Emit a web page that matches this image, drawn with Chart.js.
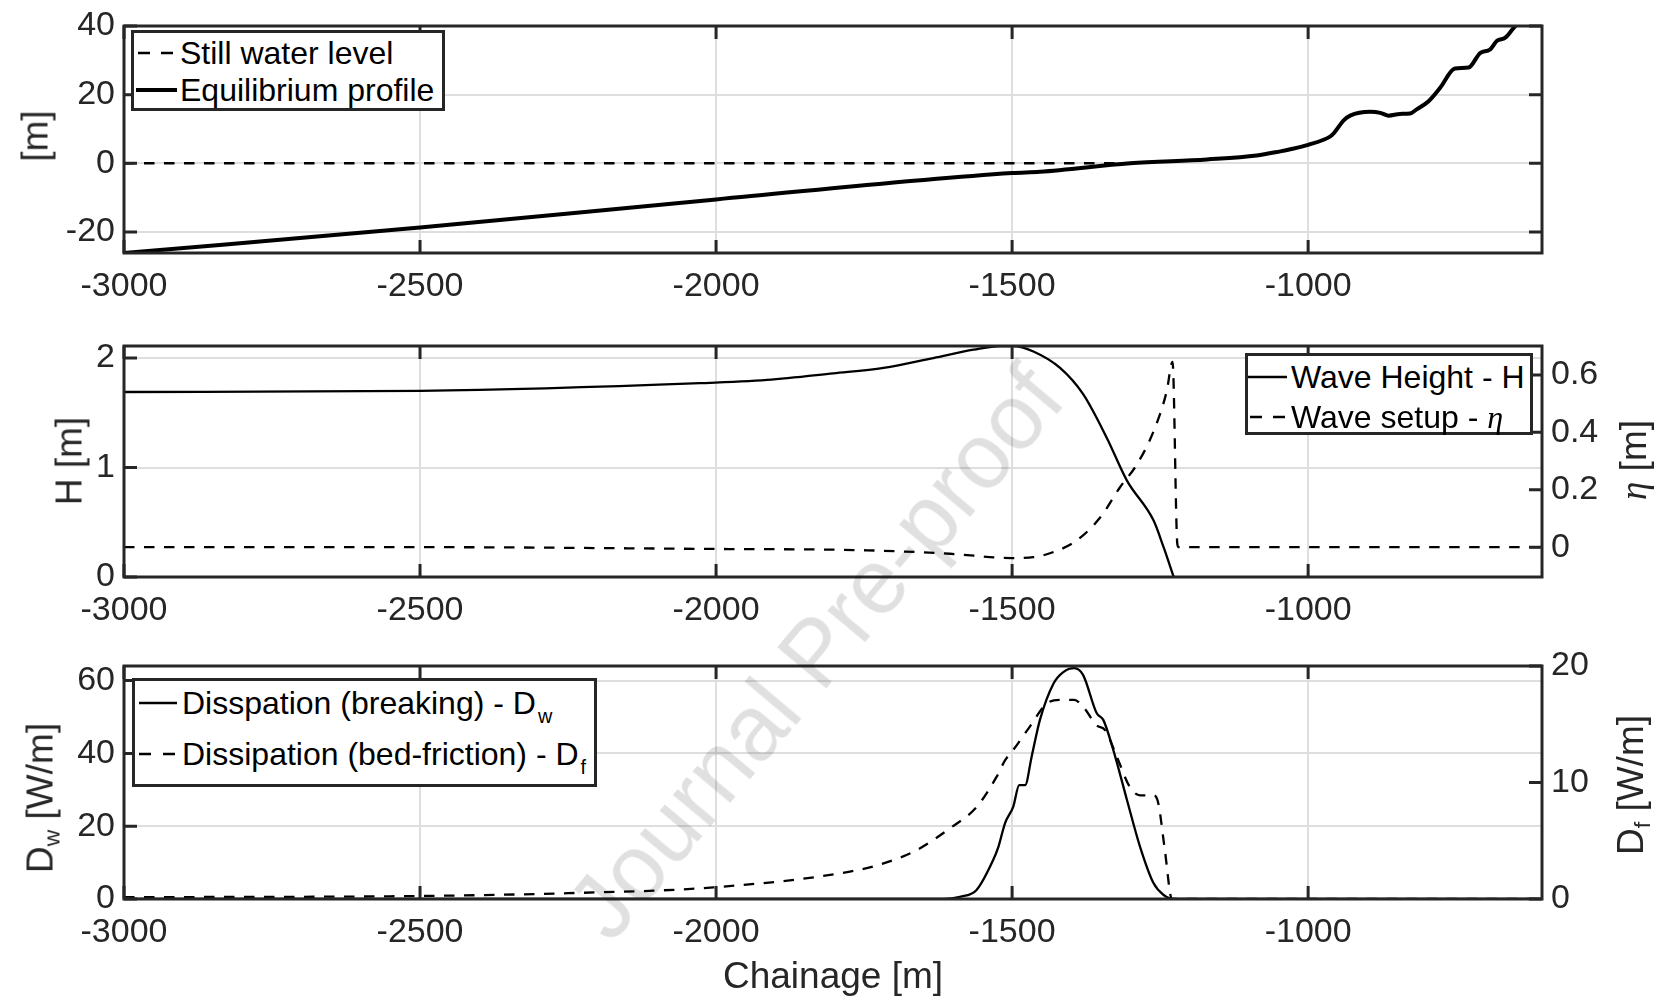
<!DOCTYPE html>
<html>
<head>
<meta charset="utf-8">
<script src="https://cdn.jsdelivr.net/npm/chart.js@4.4.1/dist/chart.umd.min.js"></script>
<style>
  body { margin: 0; background: #fff; }
  #page {
    position: relative; width: 1661px; height: 999px; overflow: hidden;
    font-family: 'Liberation Sans', Arial, Helvetica, sans-serif; color: #262626;
  }
  canvas { position: absolute; left: 0; }
  .ylab {
    position: absolute; white-space: nowrap; font-size: 37px; line-height: 1;
    transform: translate(-50%, -50%) rotate(-90deg);
  }
  .xlab {
    position: absolute; white-space: nowrap; font-size: 37px; line-height: 1;
    transform: translate(-50%, -50%);
  }
  .legend {
    position: absolute; box-sizing: border-box; border: 3px solid #262626; background: #fff;
  }
  .row { position: absolute; left: 0; height: 40px; width: 100%; }
  .row > svg { position: absolute; top: 0; }
  .row > .txt {
    position: absolute; top: 0; line-height: 40px; font-size: 32px; color: #000; white-space: nowrap;
  }
  .sub { font-size: 0.62em; position: relative; top: 0.3em; }
  .row .sub { top: 0.45em; margin-left: 2px; }
  .eta { font-family: 'Liberation Serif', 'DejaVu Serif', serif; font-style: italic; }
  #mark {
    position: absolute; left: 815px; top: 652px; white-space: nowrap;
    transform: translate(-50%, -50%) rotate(-50deg);
    font-size: 92px; line-height: 1; color: rgba(0, 0, 0, 0.12); pointer-events: none;
  }
</style>
</head>
<body>
<div id="page">
  <canvas id="c1" width="1661" height="320" style="top:0px"></canvas>
  <canvas id="c2" width="1661" height="320" style="top:320px"></canvas>
  <canvas id="c3" width="1661" height="359" style="top:640px"></canvas>

  <div class="ylab" style="left:35px; top:136px">[m]</div>
  <div class="ylab" style="left:69px; top:461px">H [m]</div>
  <div class="ylab" style="left:1633px; top:460px"><span class="eta">η</span> [m]</div>
  <div class="ylab" style="left:40px; top:798px">D<span class="sub">w</span> [W/m]</div>
  <div class="ylab" style="left:1630px; top:785px">D<span class="sub">f</span> [W/m]</div>
  <div class="xlab" style="left:833px; top:975px">Chainage [m]</div>

  <div class="legend" style="left:131px; top:30px; width:314px; height:81px">
    <div class="row" style="top:0px">
      <svg width="42" height="40" style="left:4px"><line x1="0" y1="20" x2="36" y2="20" stroke="#000" stroke-width="2.5" stroke-dasharray="12 11 12 60"/></svg>
      <span class="txt" style="left:46px">Still water level</span>
    </div>
    <div class="row" style="top:37px">
      <svg width="42" height="40" style="left:2px"><line x1="0" y1="20" x2="41" y2="20" stroke="#000" stroke-width="4"/></svg>
      <span class="txt" style="left:46px">Equilibrium profile</span>
    </div>
  </div>

  <div class="legend" style="left:1245px; top:353px; width:288px; height:82px">
    <div class="row" style="top:1px">
      <svg width="42" height="40" style="left:0px"><line x1="0" y1="20" x2="39" y2="20" stroke="#000" stroke-width="2.3"/></svg>
      <span class="txt" style="left:43px">Wave Height - H</span>
    </div>
    <div class="row" style="top:41px">
      <svg width="42" height="40" style="left:2px"><line x1="0" y1="20" x2="36" y2="20" stroke="#000" stroke-width="2.3" stroke-dasharray="12 11 12 60"/></svg>
      <span class="txt" style="left:43px">Wave setup - <span class="eta">η</span></span>
    </div>
  </div>

  <div class="legend" style="left:132px; top:678px; width:465px; height:109px">
    <div class="row" style="top:2px">
      <svg width="42" height="40" style="left:4px"><line x1="0" y1="20" x2="38" y2="20" stroke="#000" stroke-width="2.3"/></svg>
      <span class="txt" style="left:47px">Disspation (breaking) - D<span class="sub">w</span></span>
    </div>
    <div class="row" style="top:53px">
      <svg width="42" height="40" style="left:4px"><line x1="0" y1="20" x2="38" y2="20" stroke="#000" stroke-width="2.3" stroke-dasharray="12 12 12 60"/></svg>
      <span class="txt" style="left:47px">Dissipation (bed-friction) - D<span class="sub">f</span></span>
    </div>
  </div>

  <div id="mark">Journal Pre-proof</div>
</div>

<script>
// chainage axis
const xMin = -3000;
const xMax = -605;
const xTicks = [-3000, -2500, -2000, -1500, -1000];

// panel 1: bed profile
const swlX = [-3000, -1300];
const swlZ = [0, 0];
const profileX = [-3000, -2500, -2000, -1500, -1453, -1301, -1171, -1087, -1047, -1030, -1000,
  -963, -957, -940, -929, -895, -878, -864, -845, -828, -816, -797, -777, -752, -729,
  -709, -693, -681, -667, -654, -640];
const profileZ = [-26.1, -18.7, -10.5, -2.8, -2.45, 0, 1.13, 2.27, 3.5, 4.1, 5.4,
  7.8, 8.7, 12.5, 13.9, 15.0, 14.7, 13.9, 14.4, 14.5, 15.8, 18.0, 22.0, 27.6, 27.9,
  32.2, 33.1, 35.7, 36.6, 39.2, 42];
const zTicks = [-20, 0, 20, 40];

// panel 2: wave height and setup
const waveX = [-3000, -2500, -2027, -1914, -1802, -1717, -1633, -1565, -1520, -1498, -1464,
  -1419, -1380, -1340, -1306, -1261, -1244, -1227];
const waveH = [1.69, 1.70, 1.77, 1.80, 1.86, 1.91, 2.00, 2.076, 2.11, 2.11, 2.06,
  1.91, 1.67, 1.27, 0.88, 0.515, 0.27, 0.0];
const setupX = [-3000, -2500, -2027, -1745, -1605, -1501, -1464, -1430, -1391, -1351, -1318,
  -1289, -1261, -1239, -1229, -1221, -1219, -605];
const setupEta = [0, 0, -0.006, -0.011, -0.023, -0.038, -0.035, -0.017, 0.023, 0.104, 0.208,
  0.289, 0.404, 0.542, 0.646, 0.012, 0, 0];
const hTicks = [0, 1, 2];
const etaTicks = [0, 0.2, 0.4, 0.6];

// panel 3: dissipation
const dissX = [-3000, -1616, -1588, -1560, -1532, -1523, -1512, -1498, -1488, -1478, -1467,
  -1453, -1430, -1413, -1395, -1380, -1357, -1346, -1329, -1306, -1284, -1261, -1244, -1228, -605];
const dissDw = [0, 0, 0.6, 2.5, 10.7, 14.4, 20.8, 25.4, 31.3, 31.3, 39.1,
  49.2, 59.2, 62.4, 63.4, 61.5, 51.0, 49.2, 40.9, 27.2, 14.4, 4.3, 1.1, 0, 0];
const fricX = [-3000, -2500, -2250, -2004, -1774, -1717, -1661, -1605, -1560, -1526, -1512,
  -1498, -1470, -1441, -1418, -1395, -1380, -1357, -1343, -1323, -1301, -1284, -1261, -1253,
  -1242, -1230, -605];
const fricDf = [0.15, 0.26, 0.5, 1.0, 2.35, 3.06, 4.2, 6.07, 7.9, 10.5, 11.9,
  12.8, 14.8, 16.8, 17.1, 17.1, 16.5, 14.9, 14.5, 12.2, 9.6, 8.9, 8.9, 8.2,
  4.2, 0, 0];
const dwTicks = [0, 20, 40, 60];
const dfTicks = [0, 10, 20];

const axisColor = '#262626';
const gridColor = '#dedede';
const tickFont = { family: "'Liberation Sans', Arial, Helvetica, sans-serif", size: 34, lineHeight: 1 };
const dash = [10.5, 9.5];
const TICK_LEN = 13;

const toPoints = (xs, ys) => xs.map((x, i) => ({ x, y: ys[i] }));

// MATLAB-like box with inward ticks on every side
const boxPlugin = {
  id: 'matlabBox',
  afterDraw(chart) {
    const { ctx, chartArea: a, scales } = chart;
    ctx.save();
    ctx.strokeStyle = axisColor;
    ctx.lineWidth = 3;
    ctx.beginPath();
    scales.x.ticks.forEach((t) => {
      const px = scales.x.getPixelForValue(t.value);
      ctx.moveTo(px, a.bottom); ctx.lineTo(px, a.bottom - TICK_LEN);
      ctx.moveTo(px, a.top); ctx.lineTo(px, a.top + TICK_LEN);
    });
    scales.y.ticks.forEach((t) => {
      const py = scales.y.getPixelForValue(t.value);
      ctx.moveTo(a.left, py); ctx.lineTo(a.left + TICK_LEN, py);
      if (!scales.y2) { ctx.moveTo(a.right, py); ctx.lineTo(a.right - TICK_LEN, py); }
    });
    if (scales.y2) {
      scales.y2.ticks.forEach((t) => {
        const py = scales.y2.getPixelForValue(t.value);
        ctx.moveTo(a.right, py); ctx.lineTo(a.right - TICK_LEN, py);
      });
    }
    ctx.stroke();
    ctx.strokeRect(a.left, a.top, a.right - a.left, a.bottom - a.top);
    ctx.restore();
  },
};

function xScale(height) {
  return {
    type: 'linear',
    min: xMin,
    max: xMax,
    afterBuildTicks: (s) => { s.ticks = xTicks.map((v) => ({ value: v })); },
    afterFit: (s) => { s.height = height; },
    grid: { color: gridColor, lineWidth: 2, drawTicks: false },
    border: { display: false },
    ticks: { color: axisColor, font: tickFont, padding: 17, maxRotation: 0, autoSkip: false,
      callback: (v) => String(v) },
  };
}

function yScale(position, min, max, tickList, width, showGrid) {
  return {
    type: 'linear',
    position,
    min,
    max,
    afterBuildTicks: (s) => { s.ticks = tickList.map((v) => ({ value: v })); },
    afterFit: (s) => { s.width = width; },
    grid: { display: showGrid, color: gridColor, lineWidth: 2, drawTicks: false },
    border: { display: false },
    ticks: { color: axisColor, font: tickFont, padding: 9, autoSkip: false,
      callback: (v) => String(v) },
  };
}

function line(points, width, dashed, axis) {
  return {
    data: points,
    yAxisID: axis || 'y',
    borderColor: '#000',
    borderWidth: width,
    borderDash: dashed ? dash : [],
    pointRadius: 0,
    fill: false,
    cubicInterpolationMode: 'monotone',
  };
}

function baseOptions(padding, scales) {
  return {
    responsive: false,
    animation: false,
    events: [],
    layout: { padding, autoPadding: false },
    plugins: { legend: { display: false }, tooltip: { enabled: false } },
    scales,
  };
}

new Chart(document.getElementById('c1'), {
  type: 'line',
  data: {
    datasets: [
      line(toPoints(swlX, swlZ), 2.5, true),
      line(toPoints(profileX, profileZ), 4, false),
    ],
  },
  options: baseOptions({ top: 20, right: 119, bottom: 0, left: 0 }, {
    x: xScale(67),
    y: yScale('left', -26.1, 40, zTicks, 124, true),
  }),
  plugins: [boxPlugin],
});

new Chart(document.getElementById('c2'), {
  type: 'line',
  data: {
    datasets: [
      line(toPoints(waveX, waveH), 2.3, false, 'y'),
      line(toPoints(setupX, setupEta), 2.3, true, 'y2'),
    ],
  },
  options: baseOptions({ top: 24, right: 0, bottom: 0, left: 0 }, {
    x: xScale(63),
    y: yScale('left', 0, 2.11, hTicks, 124, true),
    y2: yScale('right', -0.104, 0.701, etaTicks, 119, false),
  }),
  plugins: [boxPlugin],
});

new Chart(document.getElementById('c3'), {
  type: 'line',
  data: {
    datasets: [
      line(toPoints(dissX, dissDw), 2.3, false, 'y'),
      line(toPoints(fricX, fricDf), 2.3, true, 'y2'),
    ],
  },
  options: baseOptions({ top: 26, right: 0, bottom: 0, left: 0 }, {
    x: xScale(100),
    y: yScale('left', 0, 64, dwTicks, 124, true),
    y2: yScale('right', 0, 20, dfTicks, 119, false),
  }),
  plugins: [boxPlugin],
});
</script>
</body>
</html>
